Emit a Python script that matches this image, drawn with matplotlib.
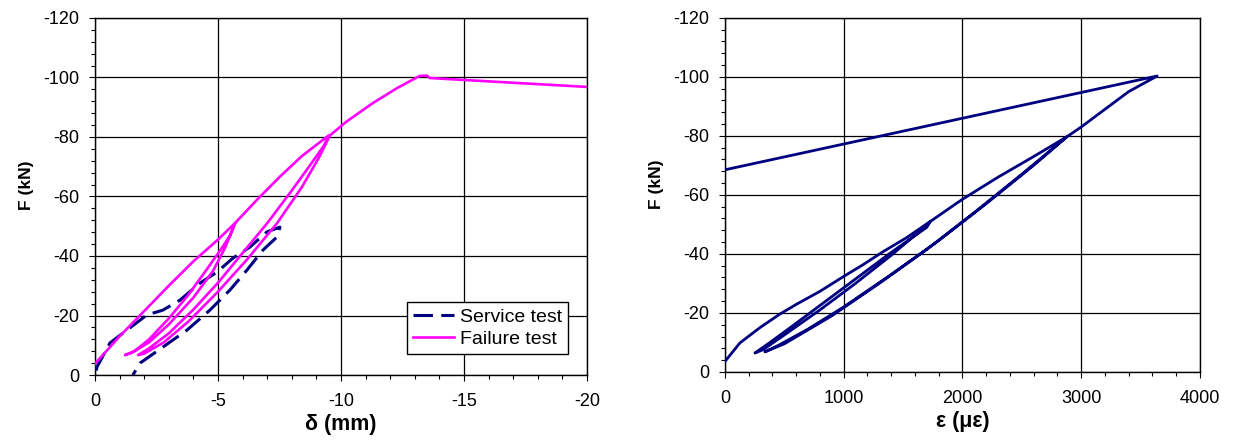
import numpy as np
import matplotlib.pyplot as plt
from matplotlib.ticker import MultipleLocator

plt.rcParams['font.family'] = ['Liberation Sans', 'DejaVu Sans']
plt.rcParams['axes.unicode_minus'] = False
plt.rcParams['lines.scale_dashes'] = False

# service test: midspan deflection (mm) vs load (kN)
service_defl = [-0.05, -0.08, -0.61, -1.30, -2.11, -2.76, -3.46, -4.27, -4.96, -5.61, -6.30, -6.99, -7.52,
                -7.40, -6.83, -6.18, -5.49, -4.67, -3.74, -2.76, -1.83, -1.54]
service_load = [-1.5, -2.7, -10.8, -15.1, -20.2, -21.8, -25.2, -30.9, -34.6, -39.3, -43.0, -48.1, -49.7,
                -46.4, -42.0, -35.3, -28.6, -21.8, -15.1, -9.4, -4.0, 0.0]

# failure test: deflection (mm) vs load (kN)
failure_defl = [0.0, -1.0, -2.0, -3.0, -4.0, -5.0, -5.7,
                -5.5, -5.1, -4.5, -3.8, -3.0, -2.2, -1.6, -1.22,
                -1.5, -2.2, -3.0, -4.0, -4.8, -5.3, -5.7,
                -6.6, -7.5, -8.4, -9.5,
                -9.3, -8.7, -8.0, -7.0, -6.0, -5.0, -4.0, -3.0, -2.2, -1.75,
                -2.0, -2.8, -3.8, -5.0, -6.2, -7.4, -8.4, -9.1, -9.55,
                -10.2, -11.3, -12.3, -13.2, -13.5, -13.6, -20.0]
failure_load = [-3.8, -13.0, -21.5, -30.0, -38.2, -45.5, -51.1,
                -47.0, -42.0, -35.0, -27.0, -19.0, -12.0, -8.0, -6.7,
                -7.5, -11.0, -17.0, -26.0, -35.0, -43.0, -51.1,
                -59.0, -66.5, -73.5, -80.5,
                -77.0, -70.0, -62.0, -51.0, -41.0, -31.0, -22.0, -14.0, -9.0, -6.7,
                -7.2, -11.0, -18.0, -28.0, -39.0, -51.0, -63.0, -73.0, -80.5,
                -85.0, -91.4, -96.5, -100.5, -100.6, -99.8, -96.8]

# failure test: strain (microstrain) vs load (kN)
strain = [0, 126, 295, 463, 606, 800, 994, 1162, 1330, 1530, 1730,
          1700, 1400, 1100, 800, 550, 380, 253,
          320, 500, 800, 1100, 1400, 1650, 1730,
          2000, 2300, 2600, 2880,
          2600, 2200, 1800, 1400, 1000, 700, 450, 337,
          500, 900, 1300, 1700, 2100, 2500, 2880,
          3000, 3200, 3400, 3640, 0]
strain_load = [-3.5, -9.8, -15.0, -19.6, -23.0, -27.3, -32.2, -36.3, -40.7, -45.5, -51.0,
               -49.0, -40.5, -31.5, -22.5, -15.0, -10.0, -6.4,
               -7.5, -12.5, -21.0, -30.0, -39.5, -48.0, -51.0,
               -58.5, -66.0, -73.0, -79.7,
               -70.0, -57.0, -44.5, -33.0, -22.0, -14.5, -9.0, -6.8,
               -9.5, -19.0, -30.0, -41.5, -54.0, -67.0, -79.7,
               -83.0, -89.0, -95.0, -100.3, -68.5]

navy = '#000080'
magenta = '#FF00FF'

fig = plt.figure(figsize=(12.37, 4.47), dpi=100)
ax1 = fig.add_axes([0.0768, 0.161, 0.3977, 0.799])
ax2 = fig.add_axes([0.586, 0.168, 0.384, 0.792])

ax1.plot(service_defl, service_load, color=navy, lw=2.2, dashes=(14, 6), label='Service test', zorder=3)
ax1.plot(failure_defl, failure_load, color=magenta, lw=1.9, label='Failure test', zorder=3)
ax2.plot(strain, strain_load, color=navy, lw=2.0, zorder=3)

ax1.set_xlim(0, -20)
ax1.xaxis.set_major_locator(MultipleLocator(5))
ax1.xaxis.set_minor_locator(MultipleLocator(1))
ax2.set_xlim(0, 4000)
ax2.xaxis.set_major_locator(MultipleLocator(1000))
ax2.xaxis.set_minor_locator(MultipleLocator(200))

for ax in (ax1, ax2):
    ax.set_ylim(0, -120)
    ax.yaxis.set_major_locator(MultipleLocator(20))
    ax.yaxis.set_minor_locator(MultipleLocator(4))
    ax.grid(which='major', color='black', lw=0.9)
    ax.set_axisbelow(True)
    ax.tick_params(which='both', direction='out', width=0.8, labelsize=13)
    ax.tick_params(which='major', length=4)
    ax.tick_params(which='minor', length=3)
    ax.tick_params(axis='x', pad=9)
    ax.tick_params(axis='y', pad=7)
    for s in ax.spines.values():
        s.set_linewidth(1.0)
    ax.set_ylabel('F (kN)', fontsize=12.5, fontweight='bold', labelpad=7, y=0.53)

ax1.set_xlabel('δ (mm)', fontsize=15.5, fontweight='bold', labelpad=3)
ax2.set_xlabel('ε (με)', fontsize=15.5, fontweight='bold', labelpad=3)

leg = ax1.legend(loc='lower right', bbox_to_anchor=(0.961, 0.059), fontsize=14,
                 fancybox=False, framealpha=1, edgecolor='black', borderpad=0.3,
                 handlelength=2.1, handletextpad=0.3, labelspacing=0.25, borderaxespad=0)
leg.get_frame().set_linewidth(1.0)

fig.savefig('out.png', dpi=100)
